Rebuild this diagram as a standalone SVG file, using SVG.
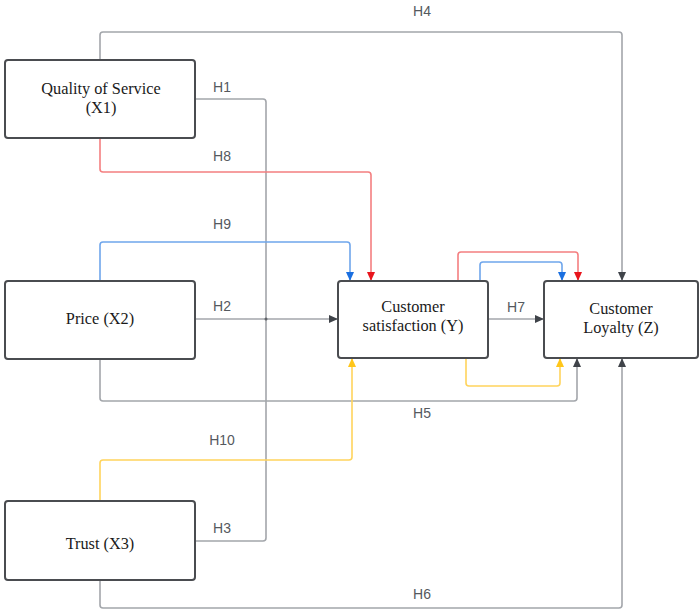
<svg xmlns="http://www.w3.org/2000/svg" width="699" height="615" viewBox="0 0 699 615">
<style>
.box{fill:#fff;stroke:#4a4c50;stroke-width:2}
.nt{font-family:"Liberation Serif","Times New Roman",serif;font-size:16.3px;fill:#1a1a1a;text-anchor:middle}
.lb{font-family:"Liberation Sans",Arial,sans-serif;font-size:14px;fill:#55595e;text-anchor:middle}
.c{fill:none;stroke-width:1.6;stroke-linejoin:round}
.g{stroke:#a3a6ab}
.r{stroke:#f47f80}
.b{stroke:#6fa6ec}
.y{stroke:#ffd45c}
</style>
<defs>
<marker id="ag" viewBox="0 0 9 8" refX="9" refY="4" markerWidth="9" markerHeight="8" markerUnits="userSpaceOnUse" orient="auto"><path d="M0,0 L9,4 L0,8 z" fill="#3f4349"/></marker>
<marker id="ar" viewBox="0 0 9 8" refX="9" refY="4" markerWidth="9" markerHeight="8" markerUnits="userSpaceOnUse" orient="auto"><path d="M0,0 L9,4 L0,8 z" fill="#e8141c"/></marker>
<marker id="ab" viewBox="0 0 9 8" refX="9" refY="4" markerWidth="9" markerHeight="8" markerUnits="userSpaceOnUse" orient="auto"><path d="M0,0 L9,4 L0,8 z" fill="#1a6fe0"/></marker>
<marker id="ay" viewBox="0 0 9 8" refX="9" refY="4" markerWidth="9" markerHeight="8" markerUnits="userSpaceOnUse" orient="auto"><path d="M0,0 L9,4 L0,8 z" fill="#ffc61a"/></marker>
</defs>
<rect width="699" height="615" fill="#fff"/>
<g id="connectors">
<path class="c g" d="M100,60 V35 Q100,32 103,32 H619 Q622,32 622,35 V281" marker-end="url(#ag)"/>
<path class="c g" d="M195,99 H263 Q266,99 266,102 V319"/>
<path class="c g" d="M195,541 H263 Q266,541 266,538 V319"/>
<path class="c g" d="M195,319 H338" marker-end="url(#ag)"/>
<circle cx="266" cy="319" r="1.5" fill="#5f6368"/>
<path class="c r" d="M100,138 V169 Q100,172 103,172 H368 Q371,172 371,175 V281" marker-end="url(#ar)"/>
<path class="c b" d="M100,281 V245 Q100,242 103,242 H347 Q350,242 350,245 V281" marker-end="url(#ab)"/>
<path class="c g" d="M100,359 V398 Q100,401 103,401 H574 Q577,401 577,398 V358" marker-end="url(#ag)"/>
<path class="c y" d="M100,501 V463 Q100,460 103,460 H349 Q352,460 352,457 V358" marker-end="url(#ay)"/>
<path class="c g" d="M100,580 V605 Q100,608 103,608 H619 Q622,608 622,605 V358" marker-end="url(#ag)"/>
<path class="c g" d="M488,319 H544" marker-end="url(#ag)"/>
<path class="c r" d="M458,281 V255 Q458,252 461,252 H575 Q578,252 578,255 V281" marker-end="url(#ar)"/>
<path class="c b" d="M480,281 V265 Q480,262 483,262 H559 Q562,262 562,265 V281" marker-end="url(#ab)"/>
<path class="c y" d="M466,358 V383 Q466,386 469,386 H557 Q560,386 560,383 V358" marker-end="url(#ay)"/>
<text class="lb" x="422" y="16">H4</text>
<text class="lb" x="222" y="92">H1</text>
<text class="lb" x="222" y="161">H8</text>
<text class="lb" x="222" y="229">H9</text>
<text class="lb" x="222" y="311">H2</text>
<text class="lb" x="516" y="312">H7</text>
<text class="lb" x="422" y="418">H5</text>
<text class="lb" x="222" y="445">H10</text>
<text class="lb" x="222" y="533">H3</text>
<text class="lb" x="422" y="599">H6</text>
</g>
<g id="x1">
<rect class="box" x="5" y="60" width="190" height="78" rx="3"/>
<text class="nt" x="101" y="94">Quality of Service</text>
<text class="nt" x="101" y="113">(X1)</text>
</g>
<g id="x2">
<rect class="box" x="5" y="281" width="190" height="78" rx="3"/>
<text class="nt" x="100" y="324">Price (X2)</text>
</g>
<g id="x3">
<rect class="box" x="5" y="501" width="190" height="79" rx="3"/>
<text class="nt" x="100" y="549">Trust (X3)</text>
</g>
<g id="y">
<rect class="box" x="338" y="281" width="150" height="77" rx="3"/>
<text class="nt" x="413" y="312">Customer</text>
<text class="nt" x="413" y="331">satisfaction (Y)</text>
</g>
<g id="z">
<rect class="box" x="544" y="281" width="154" height="77" rx="3"/>
<text class="nt" x="621" y="314">Customer</text>
<text class="nt" x="621" y="333">Loyalty (Z)</text>
</g>
</svg>
